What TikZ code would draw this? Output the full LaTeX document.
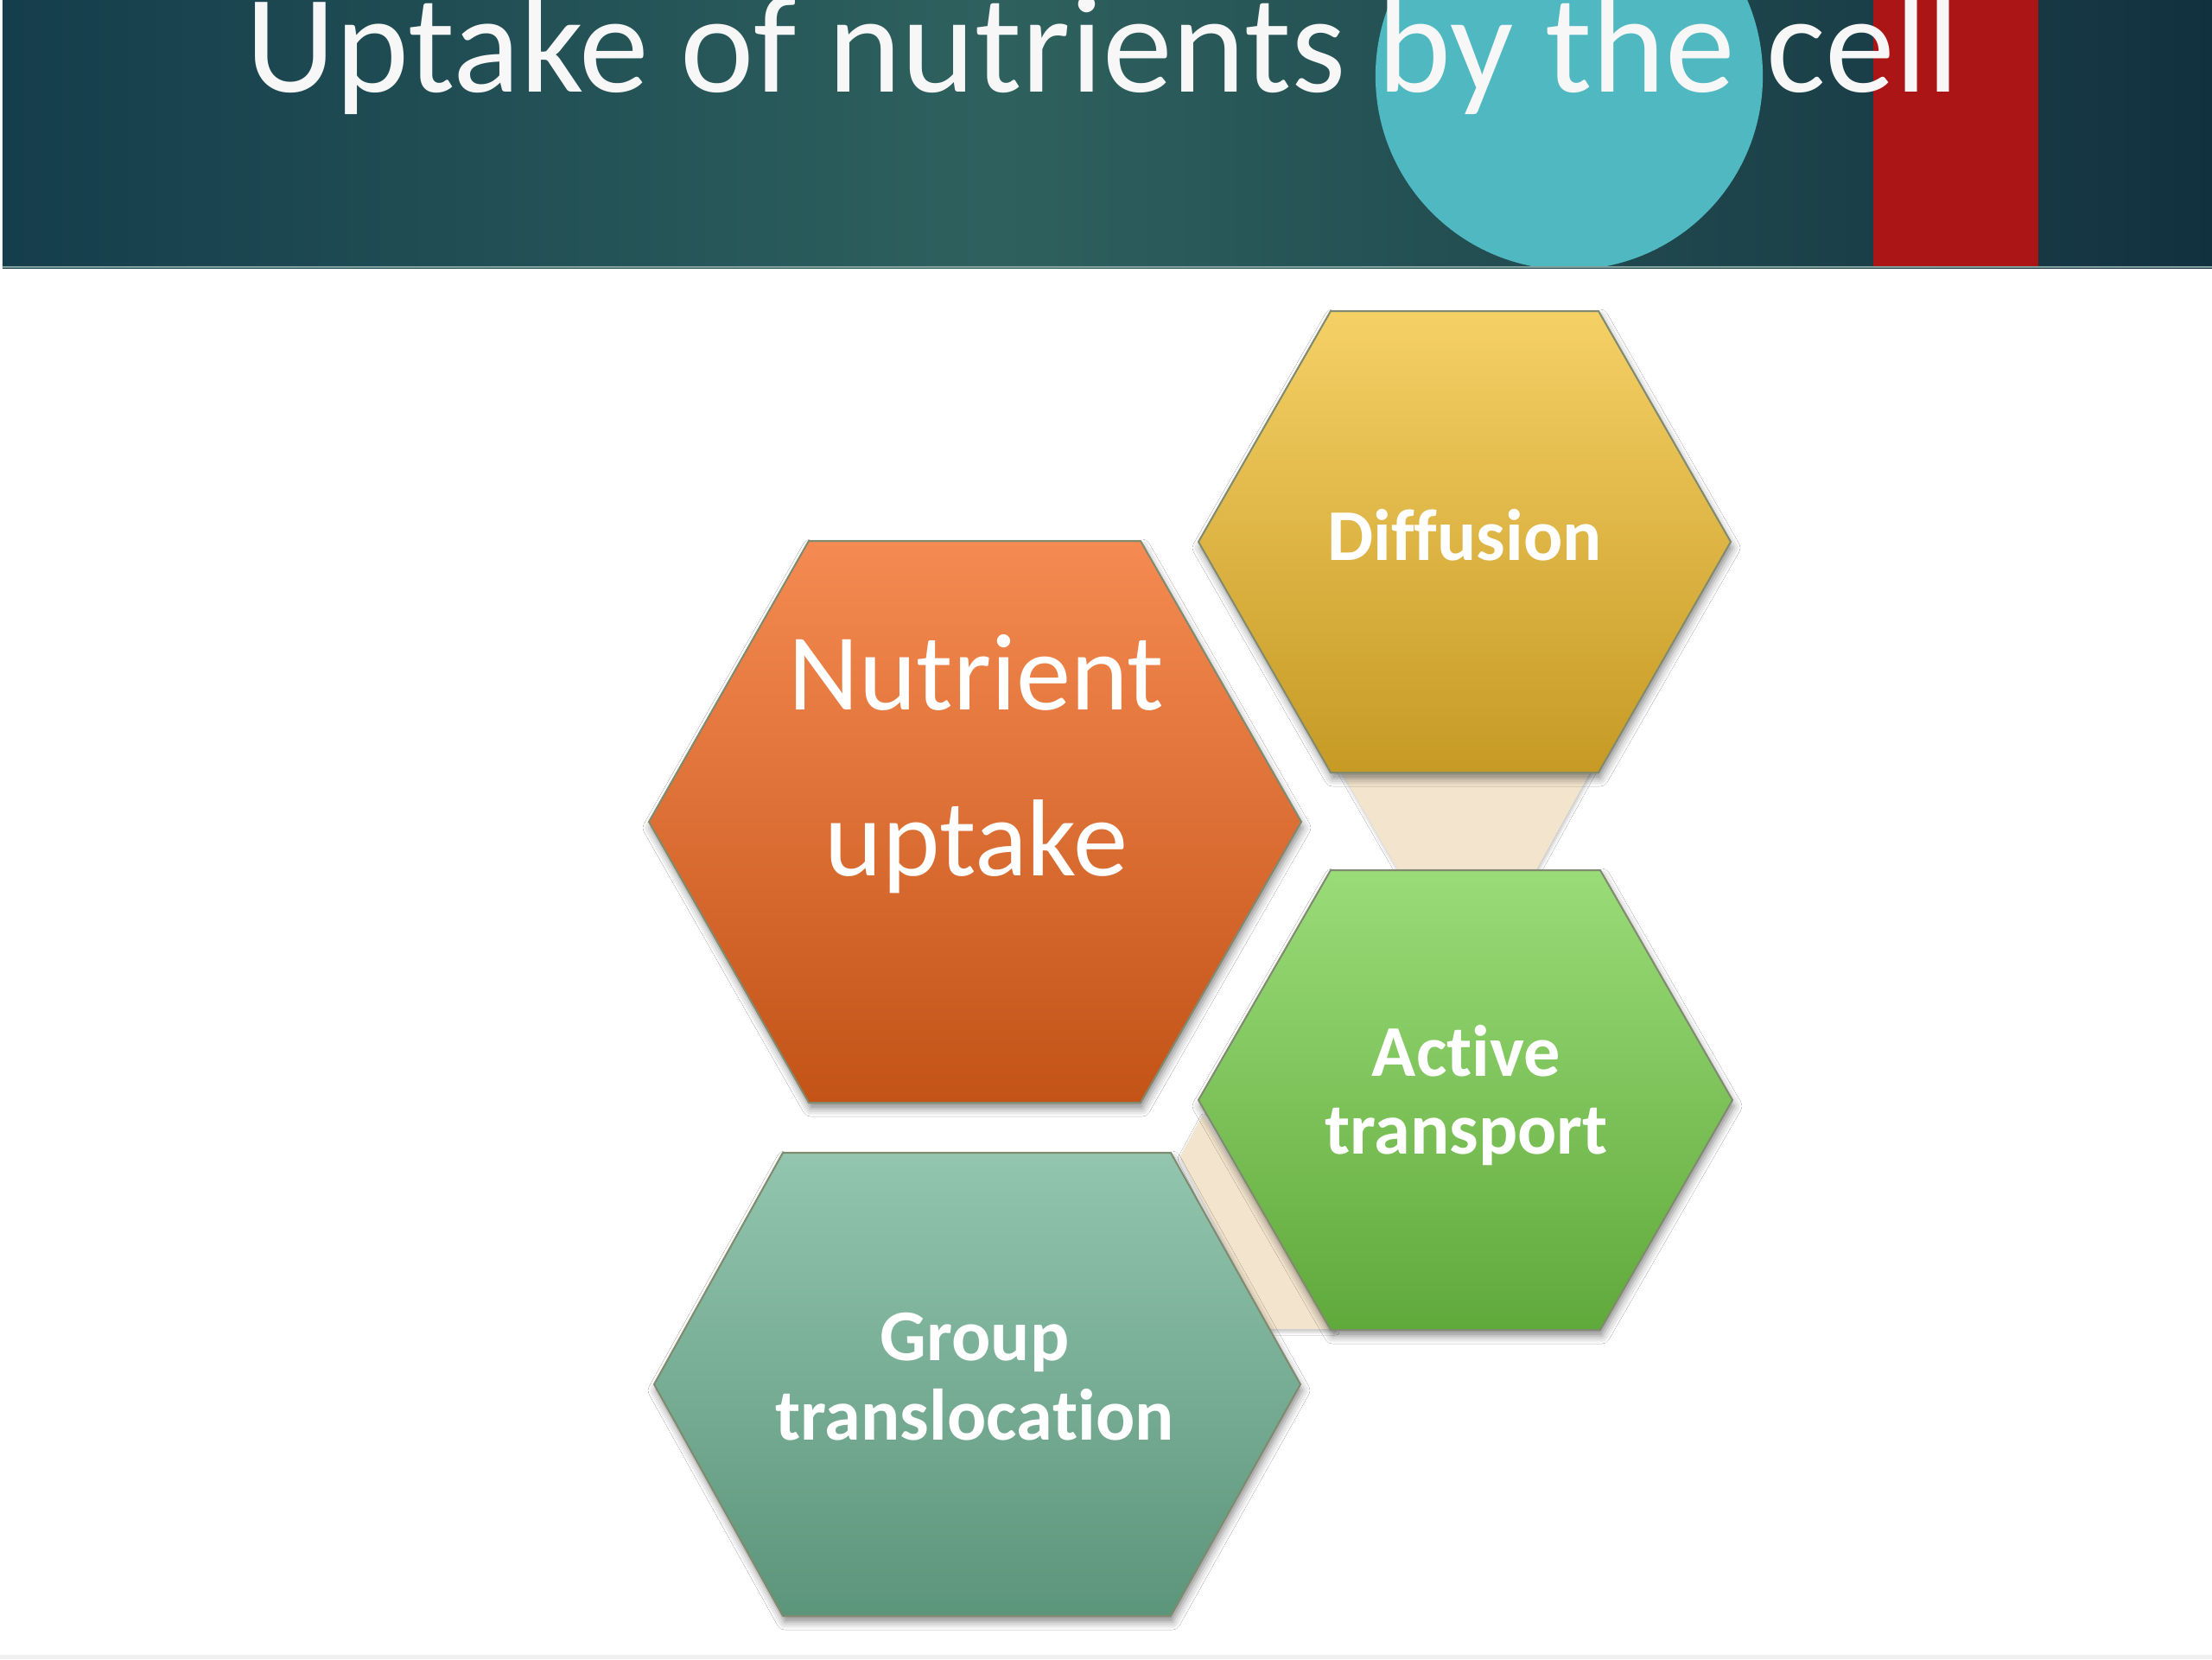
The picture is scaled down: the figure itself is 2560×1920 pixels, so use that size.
\documentclass[tikz,border=0pt]{standalone}
\usepackage{fontspec}
\setmainfont{Carlito}[Ligatures={NoCommon}]
\usetikzlibrary{shadows.blur}
\definecolor{hdDark}{HTML}{153D4C}
\definecolor{hdMid}{HTML}{2E615E}
\definecolor{hdDarkR}{HTML}{12313F}
\definecolor{circ}{HTML}{50B8C1}
\definecolor{redbar}{HTML}{AB1515}
\definecolor{beige}{HTML}{F3E5CD}
\definecolor{orT}{HTML}{F58B52}
\definecolor{orB}{HTML}{C35317}
\definecolor{yeT}{HTML}{F5D065}
\definecolor{yeB}{HTML}{C69A25}
\definecolor{grT}{HTML}{9ADC78}
\definecolor{grB}{HTML}{60A93B}
\definecolor{tlT}{HTML}{93C5AF}
\definecolor{tlB}{HTML}{5B957A}
\definecolor{hexline}{HTML}{7F8A6E}
\tikzset{
  hexshadow/.style={blur shadow={shadow xshift=0.02cm, shadow yshift=-0.07cm, shadow blur radius=0.09cm, shadow opacity=45}},
  hexbox/.style={hexshadow, draw=hexline, line width=0.02cm, line join=miter},
  conn/.style={fill=beige, blur shadow={shadow xshift=0.01cm, shadow yshift=-0.03cm, shadow blur radius=0.04cm, shadow opacity=25}},
  boldtxt/.style={text=white, font=\fontsize{24}{28}\selectfont\bfseries, inner sep=0pt, anchor=base},
  bigtxt/.style={text=white, font=\fontsize{36}{42}\selectfont, inner sep=0pt, anchor=base},
  titletxt/.style={text=white!94!gray, font=\fontsize{46}{52}\selectfont, inner sep=0pt, anchor=base}
}
\begin{document}
\begin{tikzpicture}[x=0.01cm,y=-0.01cm]
\useasboundingbox (0,0) rectangle (2560,1920);
\fill[white] (0,0) rectangle (2560,1920);
% header band
\shade[left color=hdDark, right color=hdMid] (3,0) rectangle (1150,310);
\shade[left color=hdMid, right color=hdDarkR] (1150,0) rectangle (2560,310);
\begin{scope}
  \clip (3,0) rectangle (2560,309);
  \fill[circ] (1816,88) circle (2.24cm);
\end{scope}
\fill[redbar] (2168,0) rectangle (2359,308);
\draw[line width=0.02cm, color=hdMid!60!white] (3,309) -- (2560,309);
\node[titletxt] (title) at (1276,106) {Uptake of nutrients by the cell};
\fill[gray!12] (0,1915) rectangle (2560,1920);

% hexagon corner coordinates
% Nutrient uptake
\coordinate (n1) at (751,951);  \coordinate (n2) at (936,626);  \coordinate (n3) at (1320,626);
\coordinate (n4) at (1506,951); \coordinate (n5) at (1320,1276); \coordinate (n6) at (936,1276);
% Diffusion
\coordinate (d1) at (1387,627); \coordinate (d2) at (1540,360); \coordinate (d3) at (1850,360);
\coordinate (d4) at (2003,627); \coordinate (d5) at (1850,894); \coordinate (d6) at (1540,894);
% Active transport
\coordinate (a1) at (1387,1273); \coordinate (a2) at (1540,1007); \coordinate (a3) at (1852,1007);
\coordinate (a4) at (2005,1273); \coordinate (a5) at (1852,1539); \coordinate (a6) at (1540,1539);
% Group translocation
\coordinate (g1) at (757,1602);  \coordinate (g2) at (906,1334); \coordinate (g3) at (1355,1334);
\coordinate (g4) at (1505,1602); \coordinate (g5) at (1355,1870); \coordinate (g6) at (906,1870);

% connectors
\path[conn] (1545,880) -- (1848,880) -- (1775,1012) -- (1621,1012) -- cycle;
\path[conn] (1366,1338) -- (1392,1290) -- (1545,1538) -- (1466,1538) -- cycle;

% hexagons
\path[hexbox, top color=orT, bottom color=orB] (n1) -- (n2) -- (n3) -- (n4) -- (n5) -- (n6) -- cycle;
\path[hexbox, top color=yeT, bottom color=yeB] (d1) -- (d2) -- (d3) -- (d4) -- (d5) -- (d6) -- cycle;
\path[hexbox, top color=grT, bottom color=grB] (a1) -- (a2) -- (a3) -- (a4) -- (a5) -- (a6) -- cycle;
\path[hexbox, top color=tlT, bottom color=tlB] (g1) -- (g2) -- (g3) -- (g4) -- (g5) -- (g6) -- cycle;

% texts
\node[bigtxt] (nut1) at (1130,821) {Nutrient};
\node[bigtxt] (nut2) at (1130,1013) {uptake};
\node[boldtxt] (dif) at (1695,648) {Dif\kern0pt fusion};
\node[boldtxt] (act1) at (1697,1245) {Ac\kern0pt tive};
\node[boldtxt] (act2) at (1697,1335) {transport};
\node[boldtxt] (grp1) at (1128,1574) {Group};
\node[boldtxt] (grp2) at (1128,1666) {transloca\kern0pt tion};
\end{tikzpicture}
\end{document}
